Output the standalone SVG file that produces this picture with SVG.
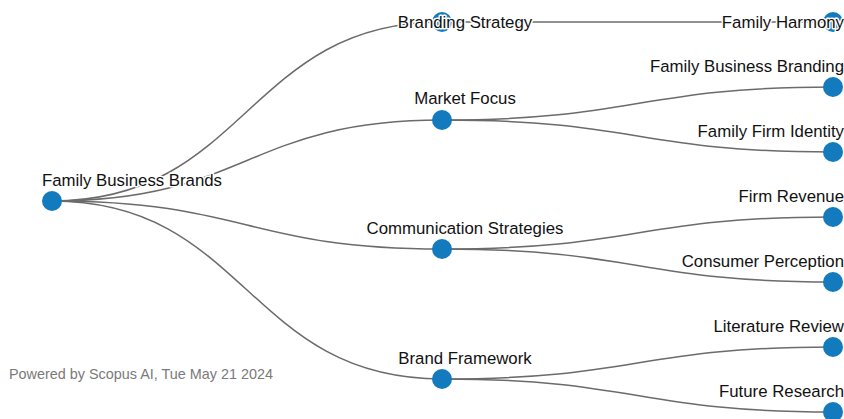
<svg xmlns="http://www.w3.org/2000/svg" width="844" height="419" viewBox="0 0 844 419">
<style>
.link{fill:none;stroke:#6b6b6b;stroke-width:1.5}
.node circle{fill:#137abd}
.node text{font-family:"Liberation Sans",Arial,sans-serif;font-size:16.8px;fill:#111;stroke:#fff;stroke-width:3;paint-order:stroke;stroke-linejoin:round}
.footer{font-family:"Liberation Sans",Arial,sans-serif;font-size:14.4px;fill:#7a7a7a}
</style>
<rect width="844" height="419" fill="#fff"/>
<g id="links">
<path class="link" d="M52,201C247,201 247,22 442,22"/>
<path class="link" d="M52,201C247,201 247,120 442,120"/>
<path class="link" d="M52,201C247,201 247,249 442,249"/>
<path class="link" d="M52,201C247,201 247,379 442,379"/>
<path class="link" d="M442,22C637.5,22 637.5,22 833,22"/>
<path class="link" d="M442,120C637.5,120 637.5,87 833,87"/>
<path class="link" d="M442,120C637.5,120 637.5,152 833,152"/>
<path class="link" d="M442,249C637.5,249 637.5,217 833,217"/>
<path class="link" d="M442,249C637.5,249 637.5,282 833,282"/>
<path class="link" d="M442,379C637.5,379 637.5,347 833,347"/>
<path class="link" d="M442,379C637.5,379 637.5,412 833,412"/>
</g>
<g id="node-family-business-brands" class="node"><circle cx="52" cy="201" r="10"/><text x="42" y="185.5">Family Business Brands</text></g>
<g id="node-branding-strategy" class="node"><circle cx="442" cy="22" r="10"/><text x="465" y="28" text-anchor="middle">Branding Strategy</text></g>
<g id="node-market-focus" class="node"><circle cx="442" cy="120" r="10"/><text x="465" y="103.5" text-anchor="middle">Market Focus</text></g>
<g id="node-communication-strategies" class="node"><circle cx="442" cy="249" r="10"/><text x="465" y="233.5" text-anchor="middle">Communication Strategies</text></g>
<g id="node-brand-framework" class="node"><circle cx="442" cy="379" r="10"/><text x="465" y="363.5" text-anchor="middle">Brand Framework</text></g>
<g id="node-family-harmony" class="node"><circle cx="833" cy="22" r="10"/><text x="844" y="28" text-anchor="end">Family Harmony</text></g>
<g id="node-family-business-branding" class="node"><circle cx="833" cy="87" r="10"/><text x="844" y="71.5" text-anchor="end">Family Business Branding</text></g>
<g id="node-family-firm-identity" class="node"><circle cx="833" cy="152" r="10"/><text x="844" y="136.5" text-anchor="end">Family Firm Identity</text></g>
<g id="node-firm-revenue" class="node"><circle cx="833" cy="217" r="10"/><text x="844" y="201.5" text-anchor="end">Firm Revenue</text></g>
<g id="node-consumer-perception" class="node"><circle cx="833" cy="282" r="10"/><text x="844" y="266.5" text-anchor="end">Consumer Perception</text></g>
<g id="node-literature-review" class="node"><circle cx="833" cy="347" r="10"/><text x="844" y="331.5" text-anchor="end">Literature Review</text></g>
<g id="node-future-research" class="node"><circle cx="833" cy="412" r="10"/><text x="844" y="396.5" text-anchor="end">Future Research</text></g>
<text class="footer" x="9" y="379">Powered by Scopus AI, Tue May 21 2024</text>
</svg>
